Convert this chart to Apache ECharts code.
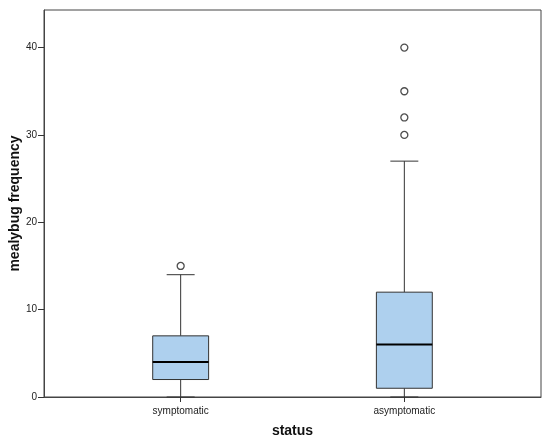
<!DOCTYPE html>
<html>
<head>
<meta charset="utf-8">
<script src="https://cdn.jsdelivr.net/npm/echarts@6/dist/echarts.min.js"></script>
<style>
  html, body { margin: 0; padding: 0; background: #fff; }
  #chart { width: 550px; height: 444px; }
</style>
</head>
<body>
<div id="chart"></div>
<script>
  // groups and their position on the x scale
  var categories = ['symptomatic', 'asymptomatic'];
  var positions = [0, 1];

  // box stats: lower whisker, Q1, median, Q3, upper whisker
  var lowWhisker = [0, 0];
  var q1 = [2, 1];
  var median = [4, 6];
  var q3 = [7, 12];
  var highWhisker = [14, 27];

  // outliers per group
  var outlierGroup = [0, 1, 1, 1, 1];
  var outlierValue = [15, 30, 32, 35, 40];

  var yTicks = [0, 10, 20, 30, 40];

  var FONT = '"Liberation Sans", Arial, Helvetica, sans-serif';

  var boxData = positions.map(function (p, i) {
    return [p, lowWhisker[i], q1[i], median[i], q3[i], highWhisker[i]];
  });
  var outlierData = outlierGroup.map(function (g, i) {
    return [positions[g], outlierValue[i]];
  });

  function renderBox(params, api) {
    var x = api.value(0);
    var pLow = api.coord([x, api.value(1)]);
    var pQ1 = api.coord([x, api.value(2)]);
    var pMed = api.coord([x, api.value(3)]);
    var pQ3 = api.coord([x, api.value(4)]);
    var pHigh = api.coord([x, api.value(5)]);
    var halfBox = api.size([0.25, 0])[0] / 2;
    var halfCap = halfBox / 2;
    var cx = pMed[0];
    var line = { stroke: '#333', lineWidth: 1 };
    return {
      type: 'group',
      children: [
        { type: 'line', shape: { x1: cx, y1: pLow[1], x2: cx, y2: pQ1[1] }, style: line },
        { type: 'line', shape: { x1: cx, y1: pQ3[1], x2: cx, y2: pHigh[1] }, style: line },
        { type: 'line', shape: { x1: cx - halfCap, y1: pHigh[1], x2: cx + halfCap, y2: pHigh[1] }, style: line },
        { type: 'line', shape: { x1: cx - halfCap, y1: pLow[1], x2: cx + halfCap, y2: pLow[1] }, style: line },
        {
          type: 'rect',
          shape: { x: cx - halfBox, y: pQ3[1], width: halfBox * 2, height: pQ1[1] - pQ3[1] },
          style: { fill: '#aed0ee', stroke: '#333', lineWidth: 1 }
        },
        { type: 'line', shape: { x1: cx - halfBox, y1: pMed[1], x2: cx + halfBox, y2: pMed[1] }, style: { stroke: '#000', lineWidth: 2 } }
      ]
    };
  }

  var chart = echarts.init(document.getElementById('chart'));
  chart.setOption({
    animation: false,
    grid: {
      left: 44, right: 9, top: 10, bottom: 47,
      outerBoundsMode: 'none',
      containLabel: false,
      show: true, borderColor: '#444', borderWidth: 1
    },
    xAxis: {
      type: 'value',
      min: -0.611, max: 1.611,
      name: 'status',
      nameLocation: 'middle',
      nameGap: 27,
      nameMoveOverlap: false,
      nameTextStyle: { fontFamily: FONT, fontWeight: 'bold', fontSize: 14, color: '#111' },
      splitLine: { show: false },
      axisLine: { onZero: false, lineStyle: { color: '#444' } },
      axisTick: { customValues: positions, length: 5, lineStyle: { color: '#333' } },
      axisLabel: {
        customValues: positions,
        margin: 9,
        fontFamily: FONT, fontSize: 10, color: '#222',
        formatter: function (v) { return categories[Math.round(v)]; }
      }
    },
    yAxis: {
      type: 'value',
      min: 0, max: 44.3,
      name: 'mealybug frequency',
      nameLocation: 'middle',
      nameGap: 22,
      nameMoveOverlap: false,
      nameTextStyle: { fontFamily: FONT, fontWeight: 'bold', fontSize: 14, color: '#111' },
      splitLine: { show: false },
      axisLine: { show: true, onZero: false, lineStyle: { color: '#444' } },
      axisTick: { show: true, customValues: yTicks, length: 6, lineStyle: { color: '#333' } },
      axisLabel: { customValues: yTicks, margin: 7, fontFamily: FONT, fontSize: 10, color: '#222' }
    },
    series: [
      {
        type: 'custom',
        renderItem: renderBox,
        encode: { x: 0, y: [1, 2, 3, 4, 5] },
        data: boxData
      },
      {
        type: 'scatter',
        symbol: 'circle',
        symbolSize: 7,
        itemStyle: { color: '#fff', borderColor: '#222', borderWidth: 1.3 },
        data: outlierData
      }
    ]
  });
</script>
</body>
</html>
